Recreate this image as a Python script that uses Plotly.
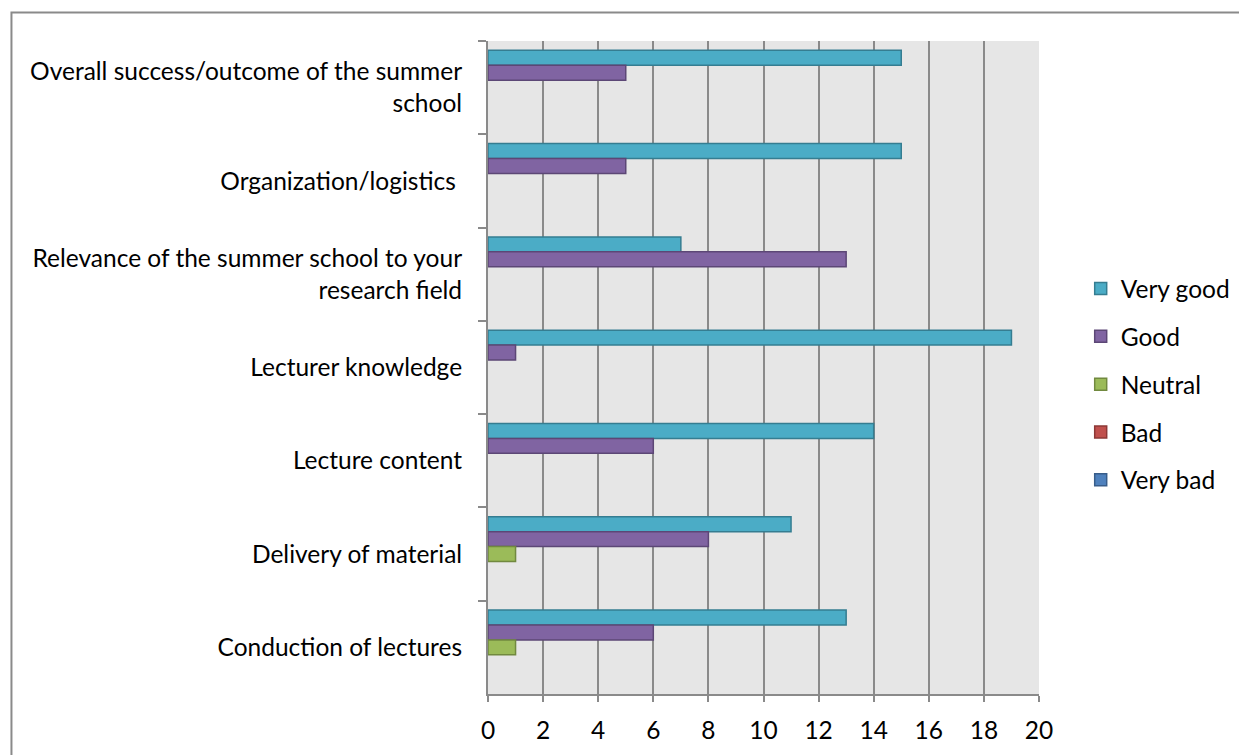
import plotly.graph_objects as go

categories = [
    "Overall success/outcome of the summer<br>school",
    "Organization/logistics\u00a0",
    "Relevance of the summer school to your<br>research field",
    "Lecturer knowledge",
    "Lecture content",
    "Delivery of material",
    "Conduction of lectures",
]
series_names = ["Very good", "Good", "Neutral", "Bad", "Very bad"]
very_good = [15, 15, 7, 19, 14, 11, 13]
good = [5, 5, 13, 1, 6, 8, 6]
neutral = [0, 0, 0, 0, 0, 1, 1]
bad = [0, 0, 0, 0, 0, 0, 0]
very_bad = [0, 0, 0, 0, 0, 0, 0]
x_ticks = [0, 2, 4, 6, 8, 10, 12, 14, 16, 18, 20]

series_values = [very_good, good, neutral, bad, very_bad]
fills = ["#4bacc6", "#8064a2", "#9bbb59", "#c0504d", "#4f81bd"]
borders = ["#357d91", "#5c4776", "#71893f", "#8c3836", "#385d8a"]

FONT = "Lato"
FS = 24.5

fig = go.Figure()
for name, vals, fc, bc in zip(series_names, series_values, fills, borders):
    fig.add_trace(go.Bar(
        y=categories,
        x=[v if v else None for v in vals],  # zero-length bars are not drawn
        name=name, orientation="h",
        marker=dict(color=fc, line=dict(color=bc, width=1.5)),
        legendgroup=name,
    ))

# page offset of the figure div (default body margin)
OFF = 8
W, H = 1247 - OFF, 755 - OFF
L, R, T, B = 488 - OFF, 1043 - OFF, 41 - OFF, 694 - OFF
pw, ph = R - L, B - T

fig.update_layout(
    width=W, height=H,
    margin=dict(l=L, r=W - R, t=T, b=H - B),
    barmode="group", bargap=0.2, bargroupgap=0,
    plot_bgcolor="#e6e6e6", paper_bgcolor="white",
    font=dict(family=FONT, size=FS, color="black"),
    legend=dict(
        x=(1085 - OFF - L) / pw, y=(B - (266 - OFF)) / ph,
        xanchor="left", yanchor="top",
        font=dict(family=FONT, size=FS, color="black"),
        tracegroupgap=13, itemwidth=30, bgcolor="rgba(0,0,0,0)",
    ),
    xaxis=dict(
        range=[0, 20], tickvals=x_ticks, showgrid=True,
        gridcolor="#8a8a8a", gridwidth=2, zeroline=False,
        showline=True, linecolor="#8a8a8a", linewidth=2,
        ticks="outside", ticklen=6, tickcolor="#8a8a8a", tickwidth=2,
        ticklabelstandoff=8, fixedrange=True,
    ),
    yaxis=dict(
        autorange="reversed", showgrid=False, zeroline=False,
        showline=True, linecolor="#8a8a8a", linewidth=2,
        ticks="outside", ticklen=8, tickcolor="#8a8a8a", tickwidth=2,
        tickson="boundaries", ticklabelstandoff=19,
    ),
    shapes=[dict(
        type="rect", xref="paper", yref="paper",
        x0=(0 - L) / pw, x1=(1300 - L) / pw,
        y0=(B - 800) / ph, y1=(B - 4.5) / ph,
        line=dict(color="#8a8a8a", width=2), fillcolor="rgba(0,0,0,0)",
        layer="below",
    )],
)

fig.write_html("out.html")
